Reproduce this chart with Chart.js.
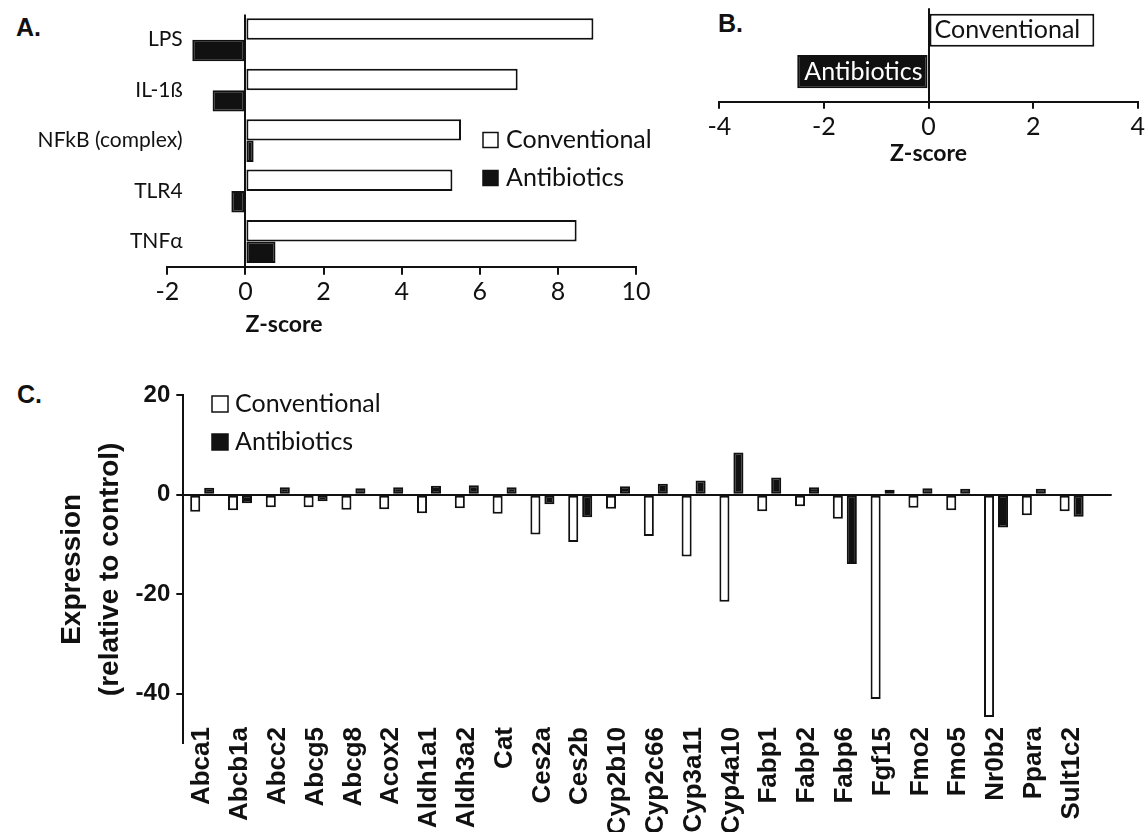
<!DOCTYPE html>
<html>
<head>
<meta charset="utf-8">
<script src="https://cdn.jsdelivr.net/npm/chart.js@4.4.0/dist/chart.umd.min.js"></script>
<style>
  body { margin: 0; background: #fff; width: 1148px; height: 832px; position: relative; overflow: hidden; }
  .box { position: absolute; }
  .tag { position: absolute; font: bold 25px "Liberation Sans", Arial, sans-serif; color: #111; line-height: 28px; }
</style>
</head>
<body>
<div class="tag" style="left:16px;top:13px">A.</div>
<div class="tag" style="left:718px;top:9px">B.</div>
<div class="tag" style="left:17px;top:380px">C.</div>
<div class="box" style="left:0;top:0;width:660px;height:345px"><canvas id="chartA"></canvas></div>
<div class="box" style="left:690px;top:0;width:458px;height:175px"><canvas id="chartB"></canvas></div>
<div class="box" style="left:0;top:375px;width:1148px;height:457px"><canvas id="chartC"></canvas></div>
<script>
// panel A: z-scores of upstream regulators
const catsA = ['LPS', 'IL-1ß', 'NFkB (complex)', 'TLR4', 'TNFα'];
const convA = [8.91, 6.97, 5.52, 5.30, 8.48];
const abxA = [-1.36, -0.84, 0.21, -0.36, 0.77];

// panel B: overall z-score
const catsB = ['Conventional', 'Antibiotics'];
const valsB = [3.17, -2.51];

// panel C: gene expression relative to control
const genes = ['Abca1', 'Abcb1a', 'Abcc2', 'Abcg5', 'Abcg8', 'Acox2', 'Aldh1a1', 'Aldh3a2', 'Cat', 'Ces2a',
  'Ces2b', 'Cyp2b10', 'Cyp2c66', 'Cyp3a11', 'Cyp4a10', 'Fabp1', 'Fabp2', 'Fabp6', 'Fgf15', 'Fmo2',
  'Fmo5', 'Nr0b2', 'Ppara', 'Sult1c2'];
const convC = [-3.4, -3.1, -2.5, -2.5, -3.0, -2.9, -3.7, -2.7, -3.8, -8.0,
  -9.5, -2.8, -8.3, -12.4, -21.5, -3.3, -2.3, -4.8, -41.1, -2.6,
  -3.1, -44.7, -4.1, -3.3];
const abxC = [1.4, -1.7, 1.5, -1.3, 1.3, 1.5, 1.8, 1.9, 1.5, -1.9,
  -4.5, 1.7, 2.2, 2.9, 8.5, 3.5, 1.5, -13.9, 1.0, 1.3,
  1.2, -6.6, 1.2, -4.4];
const ticksC = [20, 0, -20, -40];

const INK = '#111';
const SANS = 'Lato, "Open Sans", sans-serif';
const ARIAL = '"Liberation Sans", Arial, sans-serif';

// little legend: a square and the dataset name for each series
const legendBoxes = {
  id: 'legendBoxes',
  afterDraw(chart, args, o) {
    const ctx = chart.ctx;
    ctx.save();
    ctx.font = o.font;
    ctx.textBaseline = 'middle';
    chart.data.datasets.forEach((ds, i) => {
      const y = o.y + i * o.gap;
      ctx.fillStyle = ds.backgroundColor;
      ctx.fillRect(o.x, y - o.size / 2, o.size, o.size);
      ctx.strokeStyle = INK;
      ctx.lineWidth = 1.5;
      ctx.strokeRect(o.x, y - o.size / 2, o.size, o.size);
      ctx.fillStyle = INK;
      ctx.fillText(ds.label, o.x + o.size + o.pad, y);
    });
    ctx.restore();
  }
};

// axis title that starts at the zero line
const zeroTitle = {
  id: 'zeroTitle',
  afterDraw(chart, args, o) {
    const ctx = chart.ctx;
    ctx.save();
    ctx.font = o.font;
    ctx.fillStyle = INK;
    ctx.textAlign = 'left';
    ctx.textBaseline = 'middle';
    ctx.fillText(o.text, chart.scales.x.getPixelForValue(0), o.y);
    ctx.restore();
  }
};

// category names, drawn where the scale puts each category
// (the built-in tick labels get clipped to the axis box)
const catNames = {
  id: 'catNames',
  afterDraw(chart, args, o) {
    const ctx = chart.ctx;
    const s = chart.scales[o.axis];
    ctx.save();
    ctx.font = o.font;
    ctx.fillStyle = INK;
    ctx.textAlign = 'right';
    ctx.textBaseline = 'middle';
    chart.data.labels.forEach((name, i) => {
      const p = s.getPixelForValue(i);
      if (o.rotate) {
        ctx.save();
        ctx.translate(p, o.at);
        ctx.rotate(-Math.PI / 2);
        ctx.fillText(name, 0, 0);
        ctx.restore();
      } else {
        ctx.fillText(name, o.at, p);
      }
    });
    ctx.restore();
  }
};

// names written inside the bars of panel B
const barNames = {
  id: 'barNames',
  afterDatasetsDraw(chart, args, o) {
    const ctx = chart.ctx;
    const zero = chart.scales.x.getPixelForValue(0);
    ctx.save();
    ctx.font = o.font;
    ctx.textBaseline = 'middle';
    chart.getDatasetMeta(0).data.forEach((bar, i) => {
      const v = chart.data.datasets[0].data[i].x;
      if (v >= 0) {
        ctx.textAlign = 'left';
        ctx.fillStyle = INK;
        ctx.fillText(chart.data.labels[i], zero + o.pad, bar.y);
      } else {
        ctx.textAlign = 'right';
        ctx.fillStyle = '#fff';
        ctx.fillText(chart.data.labels[i], zero - o.pad, bar.y);
      }
    });
    ctx.restore();
  }
};

const zeroGrid = c => (c.tick && c.tick.value === 0 ? INK : 'transparent');

new Chart(document.getElementById('chartA'), {
  type: 'bar',
  data: {
    labels: catsA,
    datasets: [
      { label: 'Conventional', data: convA, backgroundColor: '#fff', borderColor: INK, borderWidth: 2, borderSkipped: false },
      { label: 'Antibiotics', data: abxA, backgroundColor: INK, borderColor: INK, borderWidth: 2, borderSkipped: false }
    ]
  },
  options: {
    indexAxis: 'y',
    responsive: true,
    maintainAspectRatio: false,
    animation: false,
    devicePixelRatio: 1,
    layout: { padding: { top: 14.5, right: 24, bottom: 0, left: 0 } },
    datasets: { bar: { categoryPercentage: 0.85, barPercentage: 1 } },
    plugins: {
      legend: { display: false },
      tooltip: { enabled: false },
      legendBoxes: { x: 483, y: 140, gap: 38, size: 15, pad: 8, font: '25px ' + SANS },
      zeroTitle: { text: 'Z-score', y: 325, font: 'bold 23px ' + SANS },
      catNames: { axis: 'y', at: 182.7, rotate: false, font: '21px ' + SANS }
    },
    scales: {
      x: {
        min: -2, max: 10,
        ticks: { stepSize: 2, padding: 2, color: INK, font: { family: SANS, size: 25 } },
        grid: { color: zeroGrid, lineWidth: 2, tickColor: INK, tickLength: 8, tickWidth: 2 },
        border: { display: true, color: INK, width: 2 },
        afterFit: s => { s.height = 78.3; }
      },
      y: {
        ticks: { display: false },
        grid: { display: false, drawTicks: false },
        border: { display: false },
        afterFit: s => { s.width = 167.3; }
      }
    }
  },
  plugins: [legendBoxes, zeroTitle, catNames]
});

new Chart(document.getElementById('chartB'), {
  type: 'bar',
  data: {
    labels: catsB,
    datasets: [{
      label: 'Z-score',
      data: catsB.map((c, i) => ({ x: valsB[i], y: i })),
      backgroundColor: ['#fff', INK],
      borderColor: INK, borderWidth: 2, borderSkipped: false
    }]
  },
  options: {
    indexAxis: 'y',
    responsive: true,
    maintainAspectRatio: false,
    animation: false,
    devicePixelRatio: 1,
    layout: { padding: { top: 8.3, right: 10, bottom: 0, left: 29.3 } },
    datasets: { bar: { categoryPercentage: 0.8, barPercentage: 1 } },
    plugins: {
      legend: { display: false },
      tooltip: { enabled: false },
      barNames: { pad: 6, font: '25px ' + SANS }
    },
    scales: {
      x: {
        min: -4, max: 4,
        ticks: { stepSize: 2, padding: 3, color: INK, font: { family: SANS, size: 25 } },
        grid: { color: zeroGrid, lineWidth: 2, tickColor: INK, tickLength: 7, tickWidth: 2 },
        border: { display: true, color: INK, width: 2 },
        title: { display: true, text: 'Z-score', color: INK, font: { family: SANS, size: 23, weight: 'bold' }, padding: { top: 0, bottom: 7.6 } },
        afterFit: s => { s.height = 73.3; }
      },
      y: {
        type: 'linear', min: -0.53, max: 1.725, reverse: true, display: false, offset: false,
        ticks: { stepSize: 1, includeBounds: false }
      }
    }
  },
  plugins: [barNames]
});

new Chart(document.getElementById('chartC'), {
  type: 'bar',
  data: {
    labels: genes,
    datasets: [
      { label: 'Conventional', data: genes.map((g, i) => ({ x: i, y: convC[i] })), backgroundColor: '#fff', borderColor: INK, borderWidth: 2, borderSkipped: false },
      { label: 'Antibiotics', data: genes.map((g, i) => ({ x: i, y: abxC[i] })), backgroundColor: INK, borderColor: INK, borderWidth: 2, borderSkipped: false }
    ]
  },
  options: {
    responsive: true,
    maintainAspectRatio: false,
    animation: false,
    devicePixelRatio: 1,
    layout: { padding: { top: 19, right: 36.3, bottom: 0, left: 0 } },
    datasets: { bar: { categoryPercentage: 0.74, barPercentage: 0.72 } },
    plugins: {
      legend: { display: false },
      tooltip: { enabled: false },
      legendBoxes: { x: 212, y: 29, gap: 38, size: 16, pad: 7, font: '25px ' + SANS },
      catNames: { axis: 'x', at: 352, rotate: true, font: 'bold 26px ' + ARIAL }
    },
    scales: {
      x: {
        type: 'linear', min: -0.5, max: 24.06, offset: false,
        ticks: { display: false, stepSize: 1, includeBounds: false, maxTicksLimit: 40 },
        grid: { display: false, drawTicks: false },
        border: { display: false },
        afterFit: s => { s.height = 88.7; }
      },
      y: {
        min: -50, max: 20,
        ticks: {
          stepSize: 20, includeBounds: false, padding: 6, color: INK,
          font: { family: ARIAL, size: 24, weight: 'bold' },
          callback: v => (ticksC.includes(v) ? v : '')
        },
        grid: { color: zeroGrid, lineWidth: 2, tickColor: INK, tickLength: 7, tickWidth: 2 },
        border: { display: true, color: INK, width: 2 },
        title: {
          display: true, text: ['Expression', '(relative to control)'], color: INK,
          font: { family: ARIAL, size: 28, weight: 'bold', lineHeight: 1.36 },
          padding: { top: 53, bottom: 0 }
        },
        afterFit: s => { s.width = 183.3; }
      }
    }
  },
  plugins: [legendBoxes, catNames]
});
</script>
</body>
</html>
